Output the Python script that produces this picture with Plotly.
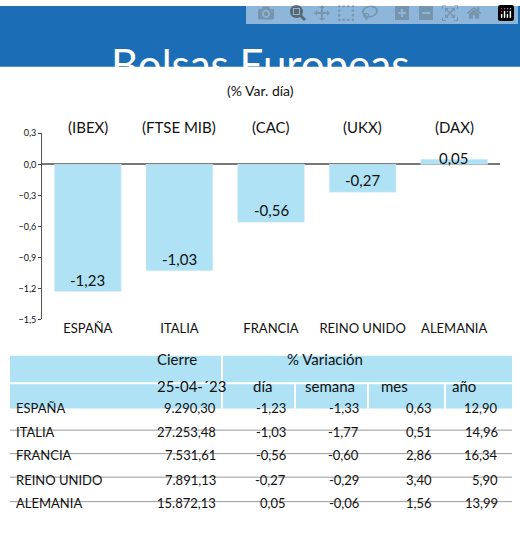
import plotly.graph_objects as go

# Data
paises = ['ESPAÑA', 'ITALIA', 'FRANCIA', 'REINO UNIDO', 'ALEMANIA']
indices = ['(IBEX)', '(FTSE MIB)', '(CAC)', '(UKX)', '(DAX)']
var_dia = [-1.23, -1.03, -0.56, -0.27, 0.05]
cierre = ['9.290,30', '27.253,48', '7.531,61', '7.891,13', '15.872,13']
dia = ['-1,23', '-1,03', '-0,56', '-0,27', '0,05']
semana = ['-1,33', '-1,77', '-0,60', '-0,29', '-0,06']
mes = ['0,63', '0,51', '2,86', '3,40', '1,56']
anio = ['12,90', '14,96', '16,34', '5,90', '13,99']
y_ticks = [0.3, 0.0, -0.3, -0.6, -0.9, -1.2, -1.5]

W, H = 520, 538
FONT = 'Lato'
BLUE = '#1b6db5'
LIGHT = '#aee2f4'


def px(x):
    return x / W


def py(y):
    return 1 - y / H


fig = go.Figure()
fig.add_trace(go.Bar(
    x=paises, y=var_dia, marker_color=LIGHT, width=0.73,
    hoverinfo='skip',
))

ann = []
shapes = []

# value labels
for p, v in zip(paises, var_dia):
    txt = f'{v:.2f}'.replace('.', ',')
    ann.append(dict(x=p, y=v, xref='x', yref='y', text=txt, showarrow=False,
                    yanchor='bottom' if v < 0 else 'middle', yshift=1,
                    font=dict(size=15, color='#111', family=FONT)))
# index labels above chart
for p, t in zip(paises, indices):
    ann.append(dict(x=p, y=py(112), xref='x', yref='paper', text=t, showarrow=False,
                    font=dict(size=15, color='#111', family=FONT)))

# title banner
shapes.append(dict(type='rect', xref='paper', yref='paper', x0=0, x1=1,
                   y0=py(62), y1=1, fillcolor=BLUE, line_width=0, layer='above'))
ann.append(dict(x=0.5, y=py(32), xref='paper', yref='paper', text='Bolsas Europeas',
                showarrow=False, font=dict(size=42, color='white', family=FONT)))
ann.append(dict(x=0.5, y=py(76), xref='paper', yref='paper', text='(% Var. día)',
                showarrow=False, font=dict(size=14, color='#111', family=FONT)))

# table header
shapes.append(dict(type='rect', xref='paper', yref='paper', x0=px(10), x1=px(512),
                   y0=py(411), y1=py(357), fillcolor=LIGHT, line_width=0, layer='above'))
for x0, y0, y1 in [(222, 357, 411), (295, 386, 411), (368, 386, 411), (445, 386, 411)]:
    shapes.append(dict(type='line', xref='paper', yref='paper', x0=px(x0), x1=px(x0),
                       y0=py(y0), y1=py(y1), line=dict(color='white', width=2)))
shapes.append(dict(type='line', xref='paper', yref='paper', x0=px(10), x1=px(512),
                   y0=py(385), y1=py(385), line=dict(color='white', width=2)))

hdr = [('Cierre', 155, 372), ('% Variación', 325, 372), ('25-04-´23', 155, 399),
       ('día', 262, 399), ('semana', 330, 399), ('mes', 410, 399), ('año', 478, 399)]
for t, x, y in hdr:
    ann.append(dict(x=px(x), y=py(y), xref='paper', yref='paper', text=t, showarrow=False,
                    font=dict(size=15, color='#111', family=FONT)))

rows_y = [421, 445, 469, 494, 518]
cols = [(cierre, 218), (dia, 288), (semana, 361), (mes, 434), (anio, 500)]
for i, yy in enumerate(rows_y):
    ann.append(dict(x=px(14), y=py(yy), xref='paper', yref='paper', text=paises[i],
                    showarrow=False, xanchor='left', font=dict(size=13, color='#111', family=FONT)))
    for vals, xr in cols:
        ann.append(dict(x=px(xr), y=py(yy), xref='paper', yref='paper', text=vals[i],
                        showarrow=False, xanchor='right',
                        font=dict(size=13, color='#111', family=FONT)))
    if i < len(rows_y) - 1:
        shapes.append(dict(type='line', xref='paper', yref='paper', x0=px(10), x1=px(512),
                           y0=py(yy + 12), y1=py(yy + 12), line=dict(color='#999', width=1)))

fig.update_layout(
    width=W, height=H, margin=dict(l=0, r=0, t=0, b=0),
    paper_bgcolor='white', plot_bgcolor='rgba(0,0,0,0)', showlegend=False,
    separators=',.', annotations=ann, shapes=shapes,
    xaxis=dict(domain=[px(42), px(500)], showline=False, ticks='',
               tickfont=dict(size=13, color='#111', family=FONT)),
    yaxis=dict(domain=[py(320), py(130)], range=[-1.5, 0.3], tickvals=y_ticks,
               tickformat='.1f', showgrid=False, zeroline=True, zerolinecolor='#777',
               showline=True, linecolor='#555', ticks='outside', ticklen=3,
               tickfont=dict(size=9, color='#111', family=FONT)),
)

fig.write_html('out.html', post_script="document.body.style.margin='0';")
